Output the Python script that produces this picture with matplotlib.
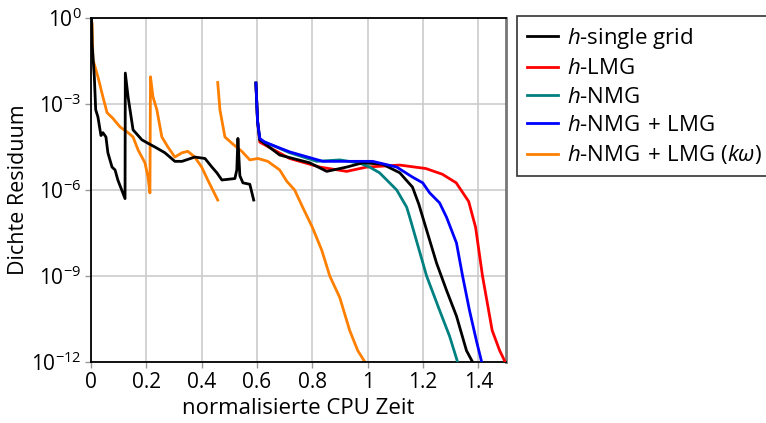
import numpy as np
from matplotlib import pyplot as plt

plt.rcParams['font.family'] = ['Open Sans', 'DejaVu Sans']
plt.rcParams['mathtext.fontset'] = 'custom'
plt.rcParams['mathtext.rm'] = 'Open Sans'
plt.rcParams['mathtext.it'] = 'Open Sans:italic'

nan = np.nan

# exponents (log10 of residual); nan = break in line
single_x = [0.002, 0.004, 0.012, 0.017, 0.025, 0.036, 0.043, 0.054, 0.061, 0.076,
            0.087, 0.097, 0.123,
            0.124, 0.134, 0.152, 0.184, 0.206, 0.231, 0.267, 0.303, 0.329, 0.375,
            0.412, 0.437, 0.455, 0.473, 0.52, 0.527, 0.531, 0.538, 0.549, 0.574, 0.588,
            nan,
            0.596, 0.602, 0.61, 0.682, 0.79, 0.852, 0.924, 0.982, 1.054, 1.116,
            1.162, 1.185, 1.199, 1.249, 1.285, 1.321, 1.357, 1.379]
single_e = [0.0, -0.9, -2.05, -3.2, -3.45, -4.1, -4.0, -4.15, -4.7, -5.2,
            -5.3, -5.65, -6.3,
            -1.92, -2.75, -3.9, -4.25, -4.37, -4.5, -4.7, -5.0, -5.0, -4.85,
            -4.9, -5.2, -5.4, -5.65, -5.6, -5.3, -4.2, -5.5, -5.75, -5.8, -6.35,
            nan,
            -2.27, -3.6, -4.25, -4.78, -5.05, -5.35, -5.2, -5.05, -5.1, -5.4,
            -5.9, -6.5, -6.95, -8.55, -9.5, -10.4, -11.6, -12.0]

lmg_x = [0.596, 0.602, 0.61, 0.718, 0.827, 0.924, 0.996, 1.116, 1.21, 1.27,
         1.32, 1.365, 1.39, 1.415, 1.45, 1.477, 1.497]
lmg_e = [-2.27, -3.6, -4.33, -4.9, -5.2, -5.35, -5.2, -5.13, -5.25, -5.45,
         -5.75, -6.4, -7.3, -9.0, -10.9, -11.6, -12.0]

nmg_x = [0.596, 0.602, 0.61, 0.718, 0.816, 0.899, 0.971, 1.007, 1.043, 1.105,
         1.141, 1.152, 1.213, 1.26, 1.296, 1.325]
nmg_e = [-2.27, -3.6, -4.25, -4.7, -5.0, -4.95, -5.06, -5.2, -5.4, -6.0,
         -6.6, -6.95, -9.0, -10.2, -11.1, -12.0]

nmglmg_x = [0.596, 0.602, 0.61, 0.628, 0.718, 0.838, 1.018, 1.105, 1.162, 1.199,
            1.224, 1.26, 1.285, 1.321, 1.343, 1.368, 1.394, 1.412]
nmglmg_e = [-2.27, -3.6, -4.2, -4.33, -4.67, -5.0, -5.0, -5.2, -5.55, -5.75,
            -6.1, -6.45, -6.95, -7.85, -9.0, -10.2, -11.3, -12.0]

komega_x = [0.004, 0.007, 0.025, 0.043, 0.058, 0.079, 0.105, 0.134, 0.152, 0.17,
            0.195, 0.206, 0.213,
            0.215, 0.224, 0.238, 0.256, 0.278, 0.303, 0.329, 0.35, 0.375, 0.4,
            0.422, 0.458,
            nan,
            0.458, 0.466, 0.484, 0.513, 0.545, 0.574, 0.603, 0.639, 0.682, 0.708,
            0.736, 0.765, 0.8, 0.834, 0.863, 0.899, 0.935, 0.964, 0.99]
komega_e = [-0.2, -1.45, -2.05, -2.75, -3.3, -3.5, -3.8, -4.0, -4.15, -4.6,
            -5.05, -5.55, -6.1,
            -2.05, -2.75, -3.2, -4.15, -4.5, -4.85, -4.7, -4.65, -4.85, -5.2,
            -5.65, -6.35,
            nan,
            -2.25, -3.2, -4.15, -4.4, -4.65, -4.95, -4.9, -5.0, -5.3, -5.7,
            -6.0, -6.6, -7.3, -8.1, -9.0, -9.75, -10.9, -11.6, -12.0]

labels = [r'$h$-single grid', r'$h$-LMG', r'$h$-NMG',
          r'$h$-NMG$\,+\,$LMG', r'$h$-NMG$\,+\,$LMG ($k\omega$)']
colors = ['black', '#ff0000', '#008080', '#0000ff', '#ff8000']
series = [(single_x, single_e), (lmg_x, lmg_e), (nmg_x, nmg_e),
          (nmglmg_x, nmglmg_e), (komega_x, komega_e)]
zorders = [4, 3, 3, 5, 2]

fig = plt.figure(figsize=(7.66, 4.23), dpi=100)
ax = fig.add_axes([0.1188, 0.1442, 0.5418, 0.8132])

for (x, e), lab, c, z in zip(series, labels, colors, zorders):
    ax.plot(x, 10.0 ** np.array(e), color=c, lw=2, label=lab, zorder=z)

ax.set_yscale('log')
ax.set_xlim(0, 1.5)
ax.set_ylim(1e-12, 1)
ax.set_yticks([1e0, 1e-3, 1e-6, 1e-9, 1e-12])
ax.set_yticklabels([r'$10^{0}$', r'$10^{-3}$', r'$10^{-6}$', r'$10^{-9}$', r'$10^{-12}$'])
ax.minorticks_off()
ax.set_xticks([0, 0.2, 0.4, 0.6, 0.8, 1.0, 1.2, 1.4])
ax.set_xticklabels(['0', '0.2', '0.4', '0.6', '0.8', '1', '1.2', '1.4'])
ax.tick_params(direction='out', length=4, width=1, color='#999999', labelsize=15, pad=3)
ax.grid(True, color='#cccccc', lw=1.2)
ax.set_axisbelow(True)
for s in ['left', 'bottom', 'top']:
    ax.spines[s].set_color('black')
    ax.spines[s].set_linewidth(1.3)
ax.spines['right'].set_color('#777777')
ax.spines['right'].set_linewidth(2)

ax.set_xlabel('normalisierte CPU Zeit', fontsize=16, labelpad=4)
ax.set_ylabel('Dichte Residuum', fontsize=15.5, labelpad=1)

leg = fig.legend(loc='upper left', bbox_to_anchor=(0.675, 0.962), fontsize=16,
                 frameon=True, fancybox=False, edgecolor='black',
                 handlelength=1.4, handletextpad=0.4, borderpad=0.45,
                 labelspacing=0.33, borderaxespad=0)
leg.get_frame().set_linewidth(1.2)

fig.savefig('out.png', dpi=100)
